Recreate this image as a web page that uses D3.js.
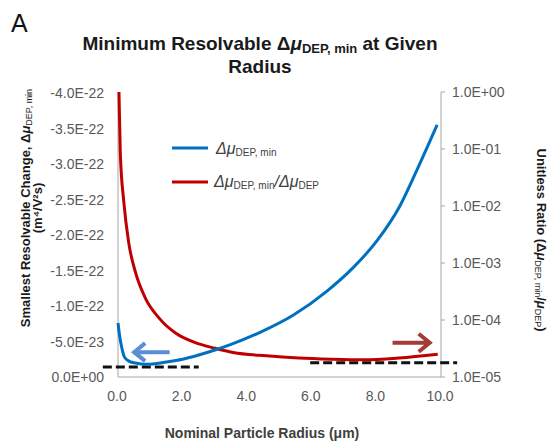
<!DOCTYPE html>
<html>
<head>
<meta charset="utf-8">
<script src="https://cdn.jsdelivr.net/npm/d3@7"></script>
<style>
  body { margin: 0; background: #fff; }
  text { font-family: Arial, "Liberation Sans", sans-serif; }
</style>
</head>
<body>
<svg id="chart"></svg>
<script>
const width = 553;
const height = 444;

// blue series: smallest resolvable change (left axis, m^4/V^2 s)
const blueRadius = [0, 0.05, 0.1, 0.2, 0.35, 0.5, 0.8, 1.0, 1.5, 2.0, 2.5, 3.0, 3.5, 4.4, 5.42, 6.47, 7.28, 8.02, 8.74, 9.26, 9.88];
const blueValue = [-7.6e-23, -5.8e-23, -4.5e-23, -2.8e-23, -2.2e-23, -2.0e-23, -1.8e-23, -1.8e-23, -2.1e-23, -2.5e-23, -3.1e-23, -3.8e-23, -4.6e-23, -6.3e-23, -8.7e-23, -1.21e-22, -1.54e-22, -1.92e-22, -2.42e-22, -2.92e-22, -3.55e-22];

// red series: unitless ratio (right log axis)
const redRadius = [0.03, 0.07, 0.18, 0.33, 0.54, 0.85, 1.26, 1.78, 2.39, 3.0, 3.56, 4.6, 5.6, 6.6, 7.6, 8.7, 9.9];
const redValue = [1.0, 0.089, 0.0118, 2.3e-3, 6.9e-4, 2.4e-4, 1.1e-4, 5.9e-5, 4.0e-5, 3.2e-5, 2.7e-5, 2.35e-5, 2.15e-5, 2.05e-5, 2.0e-5, 2.15e-5, 2.5e-5];

const xTicks = [0, 2, 4, 6, 8, 10];
const leftTicks = [0, -5e-23, -1e-22, -1.5e-22, -2e-22, -2.5e-22, -3e-22, -3.5e-22, -4e-22];
const rightTicks = [1e-5, 1e-4, 1e-3, 1e-2, 1e-1, 1];

// annotation guides
const leftDash = { from: -0.47, to: 2.5, value: -1.4e-23 };
const rightDash = { from: 5.95, to: 10.5, value: 1.78e-5 };
const blueArrow = { from: 1.6, to: 0.5, value: -3.5e-23 };
const redArrow = { from: 8.5, to: 9.65, value: 4.0e-5 };

const plot = { left: 118, right: 441, top: 92, bottom: 377 };

const svg = d3.select('#chart')
  .attr('width', width)
  .attr('height', height);

const x = d3.scaleLinear().domain([0, 10]).range([plot.left, plot.right]);
const yLeft = d3.scaleLinear().domain([0, -4e-22]).range([plot.bottom, plot.top + 1]);
const yRight = d3.scaleLog().domain([1e-5, 1]).range([plot.bottom, plot.top]);

function fmtE(v) {
  const s = v.toExponential(1).toUpperCase();
  return s.replace(/E([+-])(\d+)$/, (m, sign, d) => 'E' + sign + (d.length < 2 ? '0' + d : d));
}

const axisColor = '#a6a6a6';
const labelColor = '#595959';

// axes lines
const axes = svg.append('g').attr('stroke', axisColor).attr('stroke-width', 1);
axes.append('line').attr('x1', plot.left).attr('x2', plot.left).attr('y1', plot.top).attr('y2', plot.bottom);
axes.append('line').attr('x1', plot.right).attr('x2', plot.right).attr('y1', plot.top).attr('y2', plot.bottom);
axes.append('line').attr('x1', plot.left).attr('x2', plot.right).attr('y1', plot.bottom).attr('y2', plot.bottom);
axes.selectAll('.rt').data(rightTicks).enter().append('line')
  .attr('x1', plot.right).attr('x2', plot.right + 4)
  .attr('y1', d => yRight(d)).attr('y2', d => yRight(d));

// tick labels
svg.append('g').selectAll('text').data(xTicks).enter().append('text')
  .attr('x', d => x(d) - 1).attr('y', 401)
  .attr('text-anchor', 'middle').attr('font-size', 14).attr('fill', labelColor)
  .text(d => d.toFixed(1));

svg.append('g').selectAll('text').data(leftTicks).enter().append('text')
  .attr('x', 104).attr('y', d => yLeft(d) + 5)
  .attr('text-anchor', 'end').attr('font-size', 14).attr('fill', labelColor)
  .text(fmtE);

svg.append('g').selectAll('text').data(rightTicks).enter().append('text')
  .attr('x', 452).attr('y', d => yRight(d) + 5)
  .attr('text-anchor', 'start').attr('font-size', 14).attr('fill', labelColor)
  .text(fmtE);

// dashed reference lines
svg.append('line')
  .attr('x1', x(leftDash.from)).attr('x2', x(leftDash.to))
  .attr('y1', yLeft(leftDash.value)).attr('y2', yLeft(leftDash.value))
  .attr('stroke', '#111').attr('stroke-width', 3).attr('stroke-dasharray', '9,4');
svg.append('line')
  .attr('x1', x(rightDash.from)).attr('x2', x(rightDash.to))
  .attr('y1', yRight(rightDash.value)).attr('y2', yRight(rightDash.value))
  .attr('stroke', '#111').attr('stroke-width', 3).attr('stroke-dasharray', '9,4');

// curves
const blueLine = d3.line()
  .x((d, i) => x(blueRadius[i]))
  .y(d => yLeft(d))
  .curve(d3.curveMonotoneX);
const redLine = d3.line()
  .x((d, i) => x(redRadius[i]))
  .y(d => yRight(d))
  .curve(d3.curveMonotoneX);

svg.append('path').datum(redValue)
  .attr('d', redLine).attr('fill', 'none')
  .attr('stroke', '#c00000').attr('stroke-width', 3);
svg.append('path').datum(blueValue)
  .attr('d', blueLine).attr('fill', 'none')
  .attr('stroke', '#0070c0').attr('stroke-width', 3);

// arrows
function arrow(x0, x1, y, color) {
  const dir = Math.sign(x1 - x0);
  svg.append('path')
    .attr('d', `M${x0},${y}L${x1},${y}M${x1 - dir * 11},${y - 9}L${x1},${y}L${x1 - dir * 11},${y + 9}`)
    .attr('fill', 'none').attr('stroke', color).attr('stroke-width', 4)
    .attr('stroke-linejoin', 'miter');
}
arrow(x(blueArrow.from), x(blueArrow.to), yLeft(blueArrow.value), '#5a8fd8');
arrow(x(redArrow.from), x(redArrow.to), yRight(redArrow.value), '#a33c36');

// legend
const legend = svg.append('g');
legend.append('line').attr('x1', 172).attr('x2', 208).attr('y1', 148).attr('y2', 148)
  .attr('stroke', '#0070c0').attr('stroke-width', 3);
legend.append('line').attr('x1', 172).attr('x2', 208).attr('y1', 182).attr('y2', 182)
  .attr('stroke', '#c00000').attr('stroke-width', 3);

const lt1 = legend.append('text').attr('x', 216).attr('y', 154).attr('font-size', 16).attr('fill', '#404040');
lt1.append('tspan').attr('font-style', 'italic').text('Δμ');
lt1.append('tspan').attr('font-size', 10).attr('dy', 2).text('DEP, min');

const lt2 = legend.append('text').attr('x', 214).attr('y', 187).attr('font-size', 16).attr('fill', '#404040');
lt2.append('tspan').attr('font-style', 'italic').text('Δμ');
lt2.append('tspan').attr('font-size', 10).attr('dy', 2).text('DEP, min');
lt2.append('tspan').attr('dy', -2).attr('font-style', 'italic').text('/Δμ');
lt2.append('tspan').attr('font-size', 10).attr('dy', 2).text('DEP');

// panel letter
svg.append('text').attr('x', 11).attr('y', 32).attr('font-size', 25).attr('fill', '#111').text('A');

// title
const title = svg.append('text').attr('x', 260).attr('y', 50)
  .attr('text-anchor', 'middle').attr('font-size', 19).attr('font-weight', 'bold').attr('fill', '#1a1a1a');
title.append('tspan').text('Minimum Resolvable Δ');
title.append('tspan').attr('font-style', 'italic').text('μ');
title.append('tspan').attr('font-size', 13).attr('dy', 3).text('DEP, min');
title.append('tspan').attr('dy', -3).text(' at Given');
svg.append('text').attr('x', 260).attr('y', 73)
  .attr('text-anchor', 'middle').attr('font-size', 19).attr('font-weight', 'bold').attr('fill', '#1a1a1a')
  .text('Radius');

// x axis title
svg.append('text').attr('x', 262).attr('y', 438)
  .attr('text-anchor', 'middle').attr('font-size', 14).attr('font-weight', 'bold').attr('fill', '#404040')
  .text('Nominal Particle Radius (μm)');

// left axis title
const leftTitle = svg.append('text')
  .attr('transform', 'translate(30,208) rotate(-90)')
  .attr('text-anchor', 'middle').attr('font-size', 13).attr('font-weight', 'bold').attr('fill', '#1a1a1a');
leftTitle.append('tspan').text('Smallest Resolvable Change,  Δ');
leftTitle.append('tspan').attr('font-style', 'italic').text('μ');
leftTitle.append('tspan').attr('font-size', 9).attr('font-weight', 'normal').attr('dy', 2).text('DEP, min');
svg.append('text')
  .attr('transform', 'translate(42,208) rotate(-90)')
  .attr('text-anchor', 'middle').attr('font-size', 13).attr('font-weight', 'bold').attr('fill', '#1a1a1a')
  .text('(m⁴/V²s)');

// right axis title
const rightTitle = svg.append('text')
  .attr('transform', 'translate(537,240) rotate(90)')
  .attr('text-anchor', 'middle').attr('font-size', 13).attr('font-weight', 'bold').attr('fill', '#1a1a1a');
rightTitle.append('tspan').text('Unitless Ratio (Δ');
rightTitle.append('tspan').attr('font-style', 'italic').text('μ');
rightTitle.append('tspan').attr('font-size', 9).attr('font-weight', 'normal').attr('dy', 2).text('DEP, min');
rightTitle.append('tspan').attr('dy', -2).text('/');
rightTitle.append('tspan').attr('font-style', 'italic').text('μ');
rightTitle.append('tspan').attr('font-size', 9).attr('font-weight', 'normal').attr('dy', 2).text('DEP');
rightTitle.append('tspan').attr('dy', -2).text(')');
</script>
</body>
</html>
